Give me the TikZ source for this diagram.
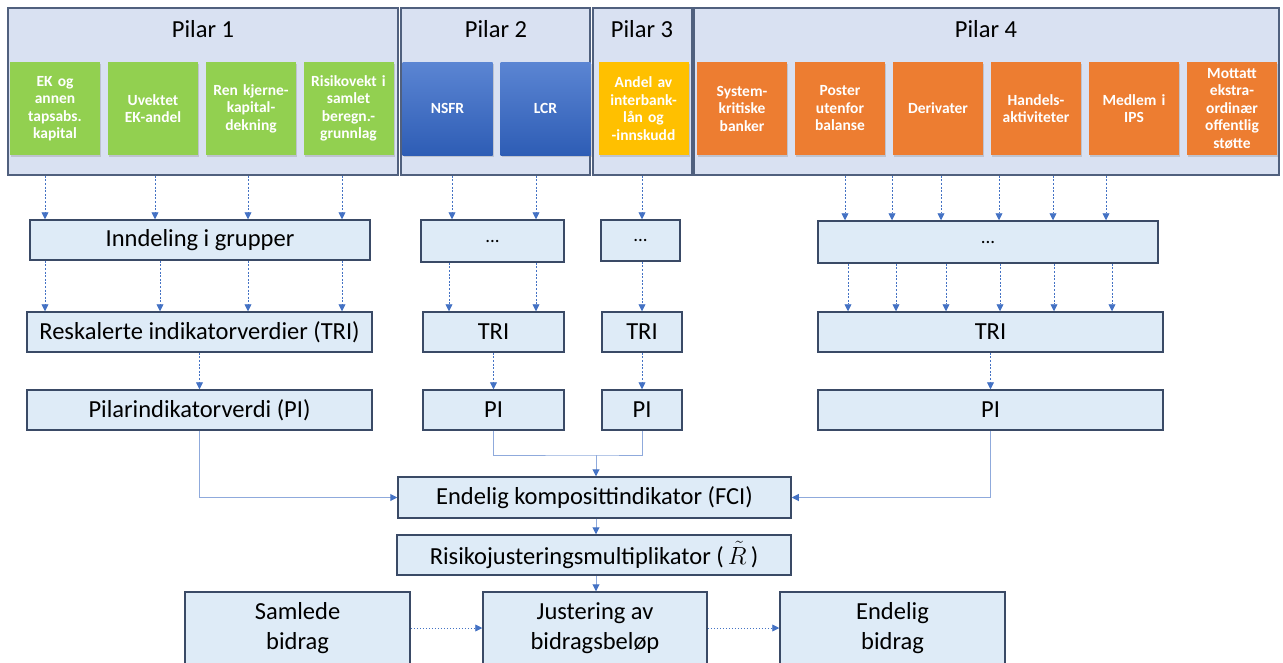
\documentclass[tikz,border=0pt]{standalone}
\usepackage{fontspec}
\setmainfont{Carlito}
\usetikzlibrary{arrows.meta,shadows}
\definecolor{boxfill}{HTML}{DEEBF7}
\definecolor{boxline}{HTML}{3A4A66}
\definecolor{pilfill}{HTML}{D9E1F2}
\definecolor{pilline}{HTML}{50607E}
\definecolor{arrblue}{HTML}{4472C4}
\definecolor{lineblue}{HTML}{8FAADC}
\definecolor{grn}{HTML}{92D050}
\definecolor{ylw}{HTML}{FFC000}
\definecolor{org}{HTML}{ED7D31}
\definecolor{blutop}{HTML}{5B85D3}
\definecolor{blubot}{HTML}{2E5DB5}
\tikzset{
  pilar/.style={draw=pilline, fill=pilfill, line width=1.5pt, minimum height=167pt, inner sep=0pt},
  pilartitle/.style={font=\fontsize{24.5}{28}\selectfont},
  ind/.style={minimum width=90pt, minimum height=93pt, inner sep=1pt, text width=88pt, align=center,
    text=white, font=\fontsize{15.5}{17.5}\selectfont\bfseries,
    drop shadow={opacity=0.3, shadow xshift=1pt, shadow yshift=-1.5pt}},
  box/.style={draw=boxline, fill=boxfill, line width=1.5pt, inner sep=0pt, align=center,
    font=\fontsize{24.5}{30}\selectfont},
  dotbox/.style={box, font=\fontsize{19}{22}\selectfont},
  dotarr/.style={draw=arrblue, line width=0.8pt, dash pattern=on 2pt off 1.6pt,
    -{Triangle[length=7pt,width=7pt]}},
  feed/.style={draw=lineblue, line width=1pt, -{Triangle[length=7pt,width=7pt,color=arrblue]}}
}
\begin{document}
\begin{tikzpicture}[x=1pt,y=-1pt]
  \useasboundingbox (0,0) rectangle (1283,662);
  % pilarer
  \node[pilar, minimum width=390pt] (c1) at (203,91.5) {};
  \node[pilar, minimum width=189pt] (c2) at (495.5,91.5) {};
  \node[pilar, minimum width=99pt] (c3) at (642.5,91.5) {};
  \node[pilar, minimum width=585pt] (c4) at (986.5,91.5) {};
  \node[pilartitle] (t1) at (203,29) {Pilar 1};
  \node[pilartitle] (t2) at (496,29) {Pilar 2};
  \node[pilartitle] (t3) at (642,29) {Pilar 3};
  \node[pilartitle] (t4) at (986,29) {Pilar 4};
  % indikatorer
  \node[ind, fill=grn] (g1) at (55,108.5) {EK og\\annen\\tapsabs.\\kapital};
  \node[ind, fill=grn] (g2) at (153,108.5) {Uvektet\\EK-andel};
  \node[ind, fill=grn] (g3) at (251,108.5) {Ren kjerne-\\kapital-\\dekning};
  \node[ind, fill=grn] (g4) at (348.5,108.5) {Risikovekt i\\samlet\\beregn.-\\grunnlag};
  \node[ind, top color=blutop, bottom color=blubot] (b1) at (447.5,108.5) {NSFR};
  \node[ind, top color=blutop, bottom color=blubot] (b2) at (545.5,108.5) {LCR};
  \node[ind, fill=ylw] (y1) at (643.5,108.5) {Andel av\\interbank-\\lån og\\-innskudd};
  \node[ind, fill=org] (o1) at (742,108.5) {System-\\kritiske\\banker};
  \node[ind, fill=org] (o2) at (840,108.5) {Poster\\utenfor\\balanse};
  \node[ind, fill=org] (o3) at (938,108.5) {Derivater};
  \node[ind, fill=org] (o4) at (1036,108.5) {Handels-\\aktiviteter};
  \node[ind, fill=org] (o5) at (1134,108.5) {Medlem i\\IPS};
  \node[ind, fill=org] (o6) at (1232,108.5) {Mottatt\\ekstra-\\ordinær\\offentlig\\støtte};
  % grupper
  \node[box, minimum width=340pt, minimum height=40pt] (grp1) at (200,240) {Inndeling i grupper};
  \node[dotbox, minimum width=143pt, minimum height=42pt] (grp2) at (492.5,241) {...};
  \node[dotbox, minimum width=79pt, minimum height=41pt] (grp3) at (640.5,240.5) {...};
  \node[dotbox, minimum width=340pt, minimum height=42pt] (grp4) at (988,242) {...};
  % TRI
  \node[box, minimum width=345pt, minimum height=40pt] (tri1) at (199.5,332) {Reskalerte indikatorverdier (TRI)};
  \node[box, minimum width=141pt, minimum height=40pt] (tri2) at (493.5,332) {TRI};
  \node[box, minimum width=80pt, minimum height=40pt] (tri3) at (642,332) {TRI};
  \node[box, minimum width=345pt, minimum height=40pt] (tri4) at (990.5,332) {TRI};
  % PI
  \node[box, minimum width=345pt, minimum height=40pt] (pi1) at (199.5,410) {Pilarindikatorverdi (PI)};
  \node[box, minimum width=141pt, minimum height=40pt] (pi2) at (493.5,410) {PI};
  \node[box, minimum width=80pt, minimum height=40pt] (pi3) at (642,410) {PI};
  \node[box, minimum width=345pt, minimum height=40pt] (pi4) at (990.5,410) {PI};
  % samlet
  \node[box, minimum width=393pt, minimum height=41pt] (fci) at (594.5,497.5) {Endelig komposittindikator (FCI)};
  \node[box, minimum width=394pt, minimum height=40pt] (rsk) at (594,555) {Risikojusteringsmultiplikator (\,$\tilde{R}$\,)};
  \node[box, minimum width=225pt, minimum height=72pt] (sam) at (297.5,628) {Samlede\\bidrag};
  \node[box, minimum width=224pt, minimum height=72pt] (jus) at (595,628) {Justering av\\bidragsbeløp};
  \node[box, minimum width=225pt, minimum height=72pt] (end) at (892.5,628) {Endelig\\bidrag};
  % piler
  \foreach \x in {45,155,248,342} {
    \coordinate (k) at (\x,0);
    \draw[dotarr] (c1.south -| k) -- (grp1.north -| k);
  }
  \foreach \x in {45,160,248,342} {
    \coordinate (k) at (\x,0);
    \draw[dotarr] (grp1.south -| k) -- (tri1.north -| k);
  }
  \foreach \x in {452,536} {
    \coordinate (k) at (\x,0);
    \draw[dotarr] (c2.south -| k) -- (grp2.north -| k);
  }
  \foreach \x in {449,536} {
    \coordinate (k) at (\x,0);
    \draw[dotarr] (grp2.south -| k) -- (tri2.north -| k);
  }
  \draw[dotarr] (c3.south -| tri3.north) -- (grp3.north -| tri3.north);
  \draw[dotarr] (grp3.south -| tri3.north) -- (tri3.north);
  \foreach \x in {845,892,941,999,1053,1106} {
    \coordinate (k) at (\x,0);
    \draw[dotarr] (c4.south -| k) -- (grp4.north -| k);
  }
  \foreach \x in {848,896,946,1000,1054,1112} {
    \coordinate (k) at (\x,0);
    \draw[dotarr] (grp4.south -| k) -- (tri4.north -| k);
  }
  \draw[dotarr] (tri1) -- (pi1);
  \draw[dotarr] (tri2) -- (pi2);
  \draw[dotarr] (tri3) -- (pi3);
  \draw[dotarr] (tri4) -- (pi4);
  \coordinate (jn) at (596,455);
  \draw[feed] (pi1.south) |- (fci.west);
  \draw[feed] (pi4.south) |- (fci.east);
  \draw[draw=lineblue, line width=1pt] (pi2.south) |- (jn) -| (pi3.south);
  \draw[feed] (jn) -- (jn |- fci.north);
  \draw[feed] (fci.south -| jn) -- (rsk.north -| jn);
  \draw[feed] (rsk.south -| jn) -- (jus.north -| jn);
  \draw[dotarr, dash pattern=on 1.5pt off 1.5pt] (sam) -- (jus);
  \draw[dotarr, dash pattern=on 1.5pt off 1.5pt] (jus) -- (end);
\end{tikzpicture}
\end{document}
